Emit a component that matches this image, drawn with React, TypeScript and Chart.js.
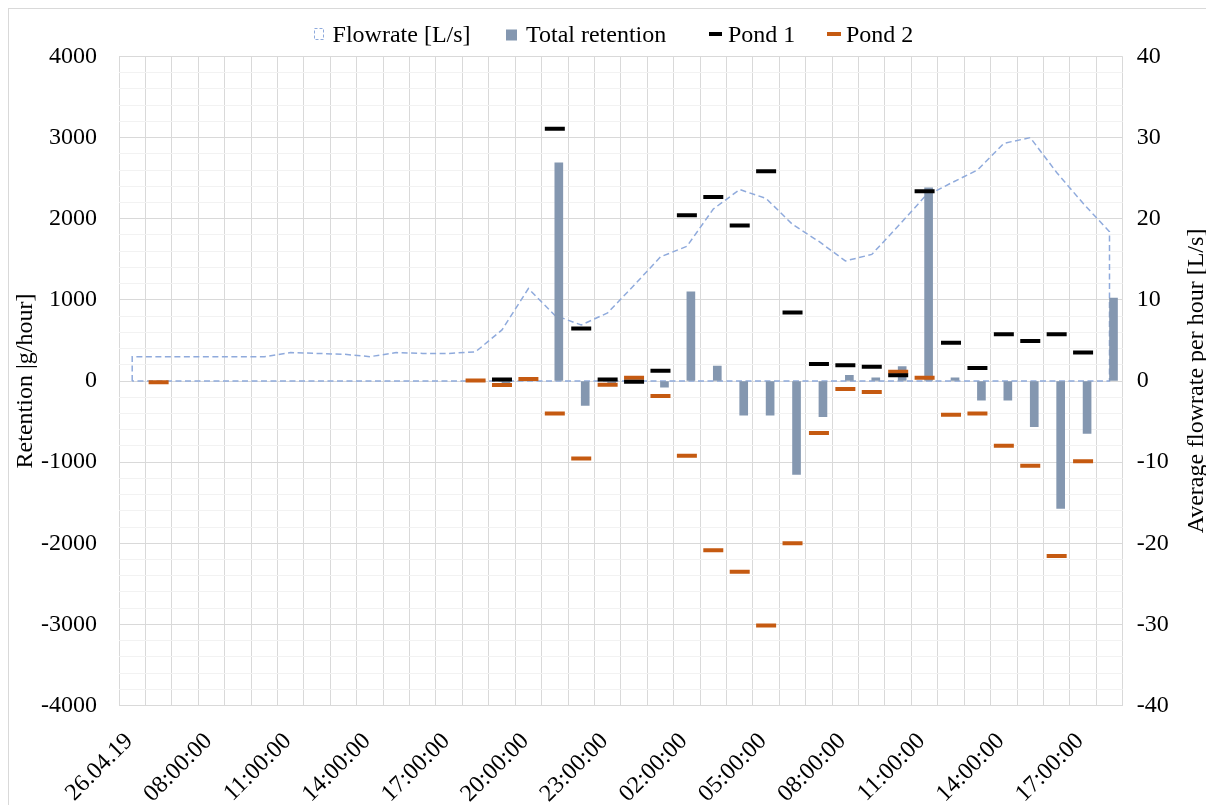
import React, { useEffect, useRef } from "react";
import { Chart, registerables } from "chart.js";

Chart.register(...registerables);

const FONT = "'Liberation Serif', 'Times New Roman', serif";

const categories = [
  "26.04.19", "06:00:00", "07:00:00", "08:00:00", "09:00:00", "10:00:00", "11:00:00", "12:00:00",
  "13:00:00", "14:00:00", "15:00:00", "16:00:00", "17:00:00", "18:00:00", "19:00:00", "20:00:00",
  "21:00:00", "22:00:00", "23:00:00", "27.04.19", "01:00:00", "02:00:00", "03:00:00", "04:00:00",
  "05:00:00", "06:00:00", "07:00:00", "08:00:00", "09:00:00", "10:00:00", "11:00:00", "12:00:00",
  "13:00:00", "14:00:00", "15:00:00", "16:00:00", "17:00:00", "18:00:00",
];

const seriesNames = ["Flowrate [L/s]", "Total retention", "Pond 1", "Pond 2"];

const flowrate = [
  3.0, 3.0, 3.0, 3.0, 3.0, 3.0, 3.5, 3.4, 3.3, 3.0, 3.5, 3.4, 3.4, 3.6, 6.3, 11.4, 8.1, 6.9, 8.4,
  11.8, 15.3, 16.6, 21.2, 23.6, 22.5, 19.3, 17.2, 14.8, 15.6, 19.1, 22.7, 24.4, 26.0, 29.3, 30.0,
  25.7, 21.9, 18.4,
];

const totalRetention = [
  null, null, null, null, null, null, null, null, null, null, null, null, null, null,
  -20, null, 2690, -300, -25, null, -75, 1100, 185, -420, -420, -1153, -441, 70, 40, 177, 2380,
  40, -235, -235, -564, -1572, -646, 1021,
];

const pond1 = [
  null, null, null, null, null, null, null, null, null, null, null, null, null, null,
  20, null, 3108, 646, 20, -10, 127, 2042, 2268, 1918, 2585, 844, 210, 193, 177, 70, 2338, 473,
  160, 576, 494, 576, 350, null,
];

const pond2 = [
  null, -15, null, null, null, null, null, null, null, null, null, null, null, 5,
  -50, 25, -400, -955, -45, 40, -185, -922, -2087, -2350, -3013, -2000, -642, -99, -136, 115, 41,
  -416, -400, -799, -1046, -2157, -988, null,
];

const leftTicks: number[] = [];
for (let v = -4000; v <= 4000; v += 200) leftTicks.push(v);
const rightTicks = [-40, -30, -20, -10, 0, 10, 20, 30, 40];

const leftTitle = "Retention |g/hour]";
const rightTitle = "Average flowrate per hour [L/s]";

const COLORS = {
  flow: "#8FAADC",
  bar: "#8497B0",
  pond1: "#000000",
  pond2: "#C55A11",
  grid: "#D9D9D9",
  minor: "#F2F2F2",
};

const decorPlugin = {
  id: "decor",
  afterDraw(chart: any) {
    const ctx = chart.ctx as CanvasRenderingContext2D;
    const area = chart.chartArea;
    const midY = (area.top + area.bottom) / 2;
    ctx.save();
    ctx.font = `24px ${FONT}`;
    ctx.fillStyle = "#000";
    ctx.textBaseline = "alphabetic";
    ctx.textAlign = "left";
    const base = 33.7;
    // Flowrate icon: dashed outline square
    ctx.strokeStyle = COLORS.flow;
    ctx.lineWidth = 1;
    ctx.setLineDash([3, 2]);
    ctx.strokeRect(306.5, 20.5, 9, 11);
    ctx.setLineDash([]);
    ctx.fillText(seriesNames[0], 324.6, base);
    // Total retention
    ctx.fillStyle = COLORS.bar;
    ctx.fillRect(498, 21.5, 11, 11);
    ctx.fillStyle = "#000";
    ctx.fillText(seriesNames[1], 518, base);
    // Pond 1
    ctx.strokeStyle = COLORS.pond1;
    ctx.lineWidth = 4;
    ctx.beginPath();
    ctx.moveTo(701, 26);
    ctx.lineTo(714, 26);
    ctx.stroke();
    ctx.fillText(seriesNames[2], 720, base);
    // Pond 2
    ctx.strokeStyle = COLORS.pond2;
    ctx.beginPath();
    ctx.moveTo(819, 26);
    ctx.lineTo(833, 26);
    ctx.stroke();
    ctx.fillText(seriesNames[3], 838, base);

    // Axis titles (both read bottom-to-top)
    ctx.textAlign = "center";
    ctx.save();
    ctx.translate(23.5, midY);
    ctx.rotate(-Math.PI / 2);
    ctx.fillText(leftTitle, 0, 0);
    ctx.restore();
    ctx.save();
    ctx.translate(1195, midY);
    ctx.rotate(-Math.PI / 2);
    ctx.fillText(rightTitle, 0, 0);
    ctx.restore();
    ctx.restore();
  },
};

export default function App() {
  const canvasRef = useRef<HTMLCanvasElement | null>(null);

  useEffect(() => {
    document.documentElement.style.overflow = "hidden";
    document.body.style.overflow = "hidden";
    const canvas = canvasRef.current;
    if (!canvas) return;

    const areaPoints = [
      { x: 0, y: 0 },
      ...flowrate.map((v, i) => ({ x: i, y: v })),
      { x: flowrate.length - 1, y: 0 },
      { x: 0, y: 0 },
    ];

    const tickFont = { family: FONT, size: 24 };

    const chart = new Chart(canvas, {
      data: {
        labels: categories,
        datasets: [
          {
            type: "line",
            label: seriesNames[0],
            data: areaPoints as any,
            xAxisID: "x2",
            yAxisID: "y1",
            borderColor: COLORS.flow,
            borderWidth: 1.5,
            borderDash: [6, 3.5],
            pointRadius: 0,
            fill: false,
            tension: 0,
            order: 4,
          },
          {
            type: "bar",
            label: seriesNames[1],
            data: totalRetention as any,
            xAxisID: "x",
            yAxisID: "y",
            backgroundColor: COLORS.bar,
            barThickness: 8,
            order: 3,
          },
          {
            type: "line",
            label: seriesNames[3],
            data: pond2 as any,
            xAxisID: "x",
            yAxisID: "y",
            showLine: false,
            pointStyle: "line",
            pointRadius: 10,
            pointHoverRadius: 10,
            pointBorderWidth: 4,
            pointBorderColor: COLORS.pond2,
            pointBackgroundColor: COLORS.pond2,
            borderColor: COLORS.pond2,
            order: 2,
          },
          {
            type: "line",
            label: seriesNames[2],
            data: pond1 as any,
            xAxisID: "x",
            yAxisID: "y",
            showLine: false,
            pointStyle: "line",
            pointRadius: 10,
            pointHoverRadius: 10,
            pointBorderWidth: 4,
            pointBorderColor: COLORS.pond1,
            pointBackgroundColor: COLORS.pond1,
            borderColor: COLORS.pond1,
            order: 1,
          },
        ],
      },
      options: {
        animation: false,
        responsive: true,
        maintainAspectRatio: false,
        events: [],
        layout: { padding: { top: 48.5, left: 0, right: 0, bottom: 0 } },
        plugins: {
          legend: { display: false },
          tooltip: { enabled: false },
        },
        scales: {
          x: {
            type: "category",
            position: "bottom",
            offset: true,
            grid: { offset: true, color: COLORS.grid, lineWidth: 1, drawTicks: false },
            border: { display: false },
            ticks: {
              autoSkip: false,
              maxRotation: 45,
              minRotation: 45,
              padding: 22,
              labelOffset: -3,
              color: "#000",
              font: tickFont,
              callback: (_v: any, i: number) => (i % 3 === 0 ? categories[i] : ""),
            },
            afterFit: (s: any) => {
              s.height = 99.5;
            },
          },
          x2: {
            type: "linear",
            display: false,
            min: -0.5,
            max: categories.length - 0.5,
          },
          y: {
            type: "linear",
            position: "left",
            min: -4000,
            max: 4000,
            afterBuildTicks: (s: any) => {
              s.ticks = leftTicks.map((v) => ({ value: v }));
            },
            grid: {
              color: (c: any) =>
                c.tick && c.tick.value % 1000 === 0 ? COLORS.grid : COLORS.minor,
              lineWidth: 1,
              drawTicks: false,
            },
            border: { display: false },
            ticks: {
              autoSkip: false,
              padding: 22,
              color: "#000",
              font: tickFont,
              callback: (v: any) => (Number(v) % 1000 === 0 ? String(v) : ""),
            },
            afterFit: (s: any) => {
              s.width = 111;
            },
          },
          y1: {
            type: "linear",
            position: "right",
            min: -40,
            max: 40,
            afterBuildTicks: (s: any) => {
              s.ticks = rightTicks.map((v) => ({ value: v }));
            },
            grid: { display: false, drawTicks: false },
            border: { display: false },
            ticks: {
              autoSkip: false,
              padding: 14,
              color: "#000",
              font: tickFont,
              callback: (v: any) => String(v),
            },
            afterFit: (s: any) => {
              s.width = 91.3;
            },
          },
        },
      } as any,
      plugins: [decorPlugin],
    });

    return () => {
      chart.destroy();
    };
  }, []);

  return (
    <div style={{ position: "relative", width: 1206, height: 797 }}>
      <div style={{ position: "absolute", left: 0, top: 0, width: 1206, height: 797 }}>
        <canvas ref={canvasRef} />
      </div>
      <div
        style={{
          position: "absolute",
          left: 0,
          top: 0,
          width: 1206,
          height: 797,
          boxSizing: "border-box",
          borderLeft: "1px solid #D9D9D9",
          borderTop: "1px solid #D9D9D9",
          pointerEvents: "none",
        }}
      />
    </div>
  );
}
